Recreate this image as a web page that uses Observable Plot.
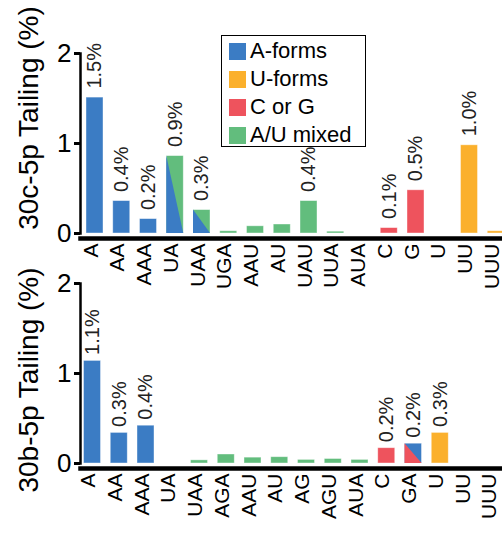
<!DOCTYPE html>
<html>
<head>
<meta charset="utf-8">
<script src="https://cdn.jsdelivr.net/npm/d3@7"></script>
<script src="https://cdn.jsdelivr.net/npm/@observablehq/plot@0.6"></script>
<style>
  html, body { margin: 0; padding: 0; background: #fff; overflow: hidden; }
  #wrap { position: relative; width: 502px; height: 533px; overflow: hidden; font-family: "Liberation Sans", Arial, sans-serif; }
  #wrap svg { position: absolute; left: 0; max-width: none; width: 520px; height: 303px; }
  #legend { position: absolute; left: 221px; top: 35px; width: 143px; height: 110px;
            border: 1.5px solid #000; background: #fff; box-sizing: content-box; }
  .row { position: absolute; left: 7px; display: flex; align-items: center; font-size: 22px; line-height: 22px; color: #000; }
  .sw { width: 17px; height: 17px; margin-right: 4px; }
  .ytitle { position: absolute; font-size: 28px; line-height: 28px; white-space: nowrap; color: #000;
            transform: translate(-50%, -50%) rotate(-90deg); }
</style>
</head>
<body>
<div id="wrap"></div>
<script>
// Tailing composition per 3' addition, two miRNA arms
const groups = ["A-forms", "U-forms", "C or G", "A/U mixed"];
const groupColors = ["#3b7cc4", "#fbb02c", "#ee535d", "#62bd7d"];

// 30c-5p
const topCats   = ["A", "AA", "AAA", "UA", "UAA", "UGA", "AAU", "AU", "UAU", "UUA", "AUA", "C", "G", "U", "UU", "UUU"];
const topValues = [1.51, 0.36, 0.16, 0.86, 0.26, 0.025, 0.08, 0.10, 0.36, 0.02, 0, 0.06, 0.48, 0, 0.98, 0.025];
const topUpper  = ["A-forms", "A-forms", "A-forms", "A/U mixed", "A/U mixed", "A/U mixed", "A/U mixed", "A/U mixed", "A/U mixed", "A/U mixed", "A/U mixed", "C or G", "C or G", "U-forms", "U-forms", "U-forms"];
const topLower  = [null, null, null, "A-forms", "A-forms", null, null, null, null, null, null, null, null, null, null, null];
const topLabelled = ["A", "AA", "AAA", "UA", "UAA", "UAU", "C", "G", "UU"];

// 30b-5p
const botCats   = ["A", "AA", "AAA", "UA", "UAA", "AGA", "AAU", "AU", "AG", "AGU", "AUA", "C", "GA", "U", "UU", "UUU"];
const botValues = [1.14, 0.34, 0.42, 0, 0.035, 0.10, 0.065, 0.07, 0.04, 0.05, 0.04, 0.17, 0.22, 0.34, 0, 0];
const botUpper  = ["A-forms", "A-forms", "A-forms", "A/U mixed", "A/U mixed", "A/U mixed", "A/U mixed", "A/U mixed", "A/U mixed", "A/U mixed", "A/U mixed", "C or G", "A-forms", "U-forms", "U-forms", "U-forms"];
const botLower  = [null, null, null, null, null, null, null, null, null, null, null, null, "C or G", null, null, null];
const botLabelled = ["A", "AA", "AAA", "C", "GA", "U"];

const font = "'Liberation Sans', Arial, sans-serif";

function panel({cats, values, upper, lower, labelled, firstCenter, labelGap}) {
  const W = 520, ML = 80, step = 26.75, hw = 8.5 / step;
  const rows = cats.map((cat, i) => ({i, cat, v: values[i], upper: upper[i], lower: lower[i]}));
  // lower-left triangles for bars split between two groups
  const tri = rows.filter(d => d.lower).flatMap(d => [
    {id: d.i, x: d.i - hw, y: d.v, g: d.lower},
    {id: d.i, x: d.i + hw, y: 0, g: d.lower}
  ]);
  const lab = rows.filter(d => labelled.includes(d.cat));
  return Plot.plot({
    width: W, height: 303,
    marginLeft: ML, marginRight: 0, marginTop: 53, marginBottom: 70,
    style: {fontFamily: font, background: "transparent", overflow: "visible", color: "#000"},
    x: {domain: [(ML - firstCenter) / step, (W - firstCenter) / step], axis: null},
    y: {domain: [0, 2], axis: null},
    color: {domain: groups, range: groupColors},
    marks: [
      Plot.rect(rows, {x1: d => d.i - hw, x2: d => d.i + hw, y1: 0, y2: "v", fill: "upper", stroke: "#fff", strokeOpacity: 0.5, strokeWidth: 0.8}),
      Plot.area(tri, {x1: "x", y1: 0, y2: "y", z: "id", fill: "g"}),
      Plot.text(lab, {x: "i", y: "v", text: d => d.v.toFixed(1) + "%", rotate: -90, textAnchor: "start", dy: -labelGap, fontSize: 20, fill: "#222"}),
      Plot.axisY({ticks: [0, 1, 2], tickFormat: d3.format("d"), tickSize: 6, tickPadding: 3, fontSize: 26, strokeWidth: 3, label: null}),
      Plot.frame({anchor: "left", strokeWidth: 2.5}),
      Plot.frame({anchor: "bottom", dy: 5, strokeWidth: 4.5}),
      Plot.axisX({ticks: d3.range(cats.length), tickFormat: i => cats[i], tickRotate: -90, tickSize: 0, tickPadding: 10, fontSize: 21, dx: -4, label: null})
    ]
  });
}

const wrap = document.getElementById("wrap");
function addPanel(opts, topPx, title, titleY) {
  const svg = panel(opts);
  svg.style.top = topPx + "px";
  wrap.appendChild(svg);
  const t = document.createElement("div");
  t.className = "ytitle";
  t.textContent = title;
  t.style.left = "29px";
  t.style.top = titleY + "px";
  wrap.appendChild(t);
}
addPanel({cats: topCats, values: topValues, upper: topUpper, lower: topLower, labelled: topLabelled, firstCenter: 94.5, labelGap: 9}, 0, "30c-5p Tailing (%)", 118);
addPanel({cats: botCats, values: botValues, upper: botUpper, lower: botLower, labelled: botLabelled, firstCenter: 92, labelGap: 6}, 230, "30b-5p Tailing (%)", 380);

// legend box
const legend = document.createElement("div");
legend.id = "legend";
groups.forEach((g, k) => {
  const row = document.createElement("div");
  row.className = "row";
  row.style.top = (4 + 28 * k) + "px";
  const sw = document.createElement("span");
  sw.className = "sw";
  sw.style.background = groupColors[k];
  const t = document.createElement("span");
  t.textContent = g;
  row.appendChild(sw);
  row.appendChild(t);
  legend.appendChild(row);
});
wrap.appendChild(legend);
</script>
</body>
</html>
